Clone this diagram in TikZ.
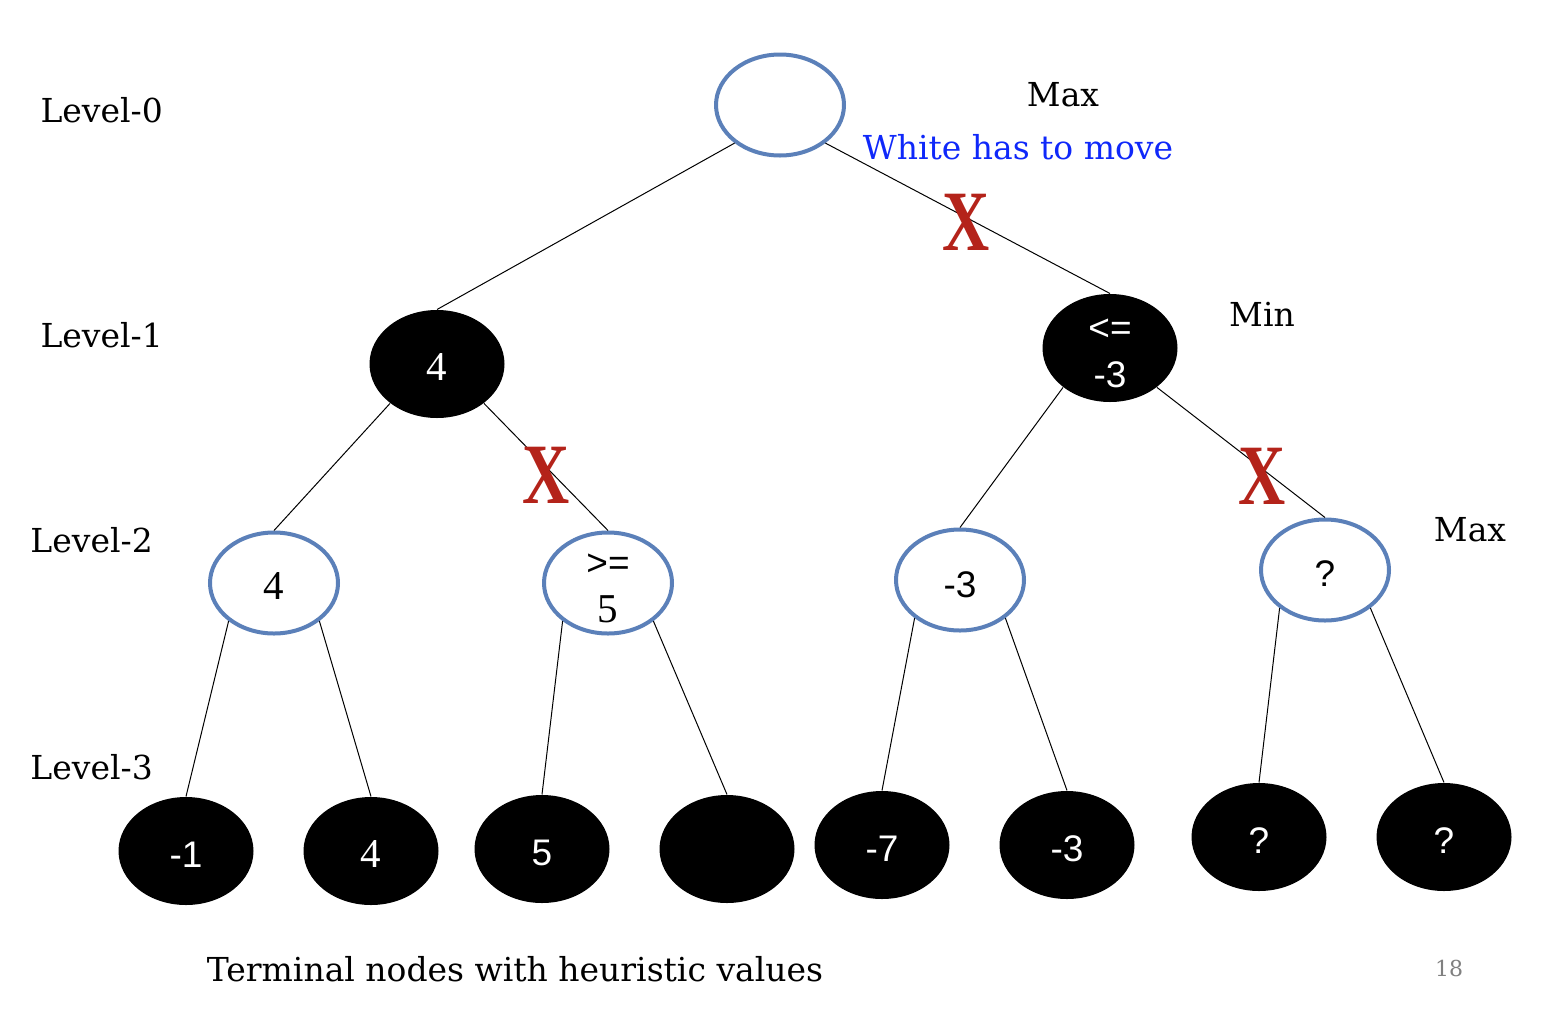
\documentclass[tikz,border=0pt]{standalone}
\usepackage{fontspec}
\setmainfont{DejaVu Serif}
\newfontfamily\nodesans{Liberation Sans}
\newfontfamily\cutfont{Liberation Serif}
\newcommand{\sv}[1]{{\cutfont\fontsize{41}{47}\selectfont #1}}
\usetikzlibrary{shapes.geometric}

\definecolor{nodeblue}{RGB}{91,128,185}
\definecolor{cutred}{RGB}{180,35,26}
\definecolor{textblue}{RGB}{15,40,250}

\begin{document}
\begin{tikzpicture}[x=1pt, y=-1pt, line width=1pt]
                \tikzstyle{maxnode}=[ellipse, draw=nodeblue, line width=4pt, fill=white, minimum width=128pt, minimum height=101pt, inner xsep=0pt, inner ysep=-10pt, align=center, font=\nodesans\fontsize{37}{47}\selectfont]
                \tikzstyle{minnode}=[ellipse, fill=black, minimum width=135pt, minimum height=108pt, inner xsep=0pt, inner ysep=-10pt, align=center, text=white, font=\nodesans\fontsize{37}{47}\selectfont]
                \tikzstyle{levellabel}=[anchor=west, inner sep=0pt, font=\fontsize{33}{40}\selectfont]
                \tikzstyle{note}=[inner sep=0pt, font=\fontsize{33}{40}\selectfont]
                \tikzstyle{cut}=[inner sep=0pt, text=cutred, font=\cutfont\bfseries\fontsize{86}{86}\selectfont]

                \useasboundingbox (0, 0) rectangle (1550, 1010);

                % level labels
                \node[levellabel] at (40, 110)  (L0)  {Level-0};
                \node[levellabel] at (40, 335)  (L1)  {Level-1};
                \node[levellabel] at (30, 540)  (L2)  {Level-2};
                \node[levellabel] at (30, 767)  (L3)  {Level-3};

                % tree
                \node[maxnode] at (780, 105)  (R)  {};
                \node[minnode] at (437, 364)  (A)  {\rule{0pt}{33pt}\sv{4}};
                \node[minnode] at (1110, 348)  (B)  {\rule{0pt}{33pt}<=\\-3};
                \node[maxnode] at (274, 583)  (AA)  {\rule{0pt}{33pt}\sv{4}};
                \node[maxnode] at (608, 583)  (AB)  {\rule{0pt}{33pt}>=\\\sv{5}};
                \node[maxnode] at (960, 580)  (BA)  {\rule{0pt}{36pt}-3};
                \node[maxnode] at (1325, 570)  (BB)  {\rule{0pt}{33pt}?};
                \node[minnode] at (186, 851)  (AAA)  {\rule{0pt}{33pt}-1};
                \node[minnode] at (371, 851)  (AAB)  {\rule{0pt}{33pt}\sv{4}};
                \node[minnode] at (542, 849)  (ABA)  {\rule{0pt}{33pt}5};
                \node[minnode] at (727, 849)  (ABB)  {};
                \node[minnode] at (882, 845)  (BAA)  {\rule{0pt}{33pt}-7};
                \node[minnode] at (1067, 845)  (BAB)  {\rule{0pt}{33pt}-3};
                \node[minnode] at (1259, 837)  (BBA)  {\rule{0pt}{33pt}?};
                \node[minnode] at (1444, 837)  (BBB)  {\rule{0pt}{33pt}?};

                \path
                (R.220) edge (A.north)
                (R.320) edge (B.north)
                (A.220) edge (AA.north)
                (A.320) edge (AB.north)
                (B.220) edge (BA.north)
                (B.320) edge (BB.north)
                (AA.220) edge (AAA.north)
                (AA.320) edge (AAB.north)
                (AB.220) edge (ABA.north)
                (AB.320) edge (ABB.north)
                (BA.220) edge (BAA.north)
                (BA.320) edge (BAB.north)
                (BB.220) edge (BBA.north)
                (BB.320) edge (BBB.north);

                % pruned branches
                \node[cut] at (966, 222)  (X1)  {\scalebox{0.76}[1]{X}};
                \node[cut] at (546, 475)  (X2)  {\scalebox{0.76}[1]{X}};
                \node[cut] at (1262, 476)  (X3)  {\scalebox{0.76}[1]{X}};

                % side notes
                \node[note] at (1063, 95)  (MaxR)  {Max};
                \node[note, text=textblue] at (1018, 147)  (Move)  {White has to move};
                \node[note] at (1262, 314)  (MinB)  {Min};
                \node[note] at (1470, 530)  (MaxB)  {Max};
                \node[note] at (515, 969)  (Term)  {Terminal nodes with heuristic values};
                \node[font=\fontsize{22}{26}\selectfont, text=gray] at (1449, 968)  (Page)  {18};
            \end{tikzpicture}
\end{document}
